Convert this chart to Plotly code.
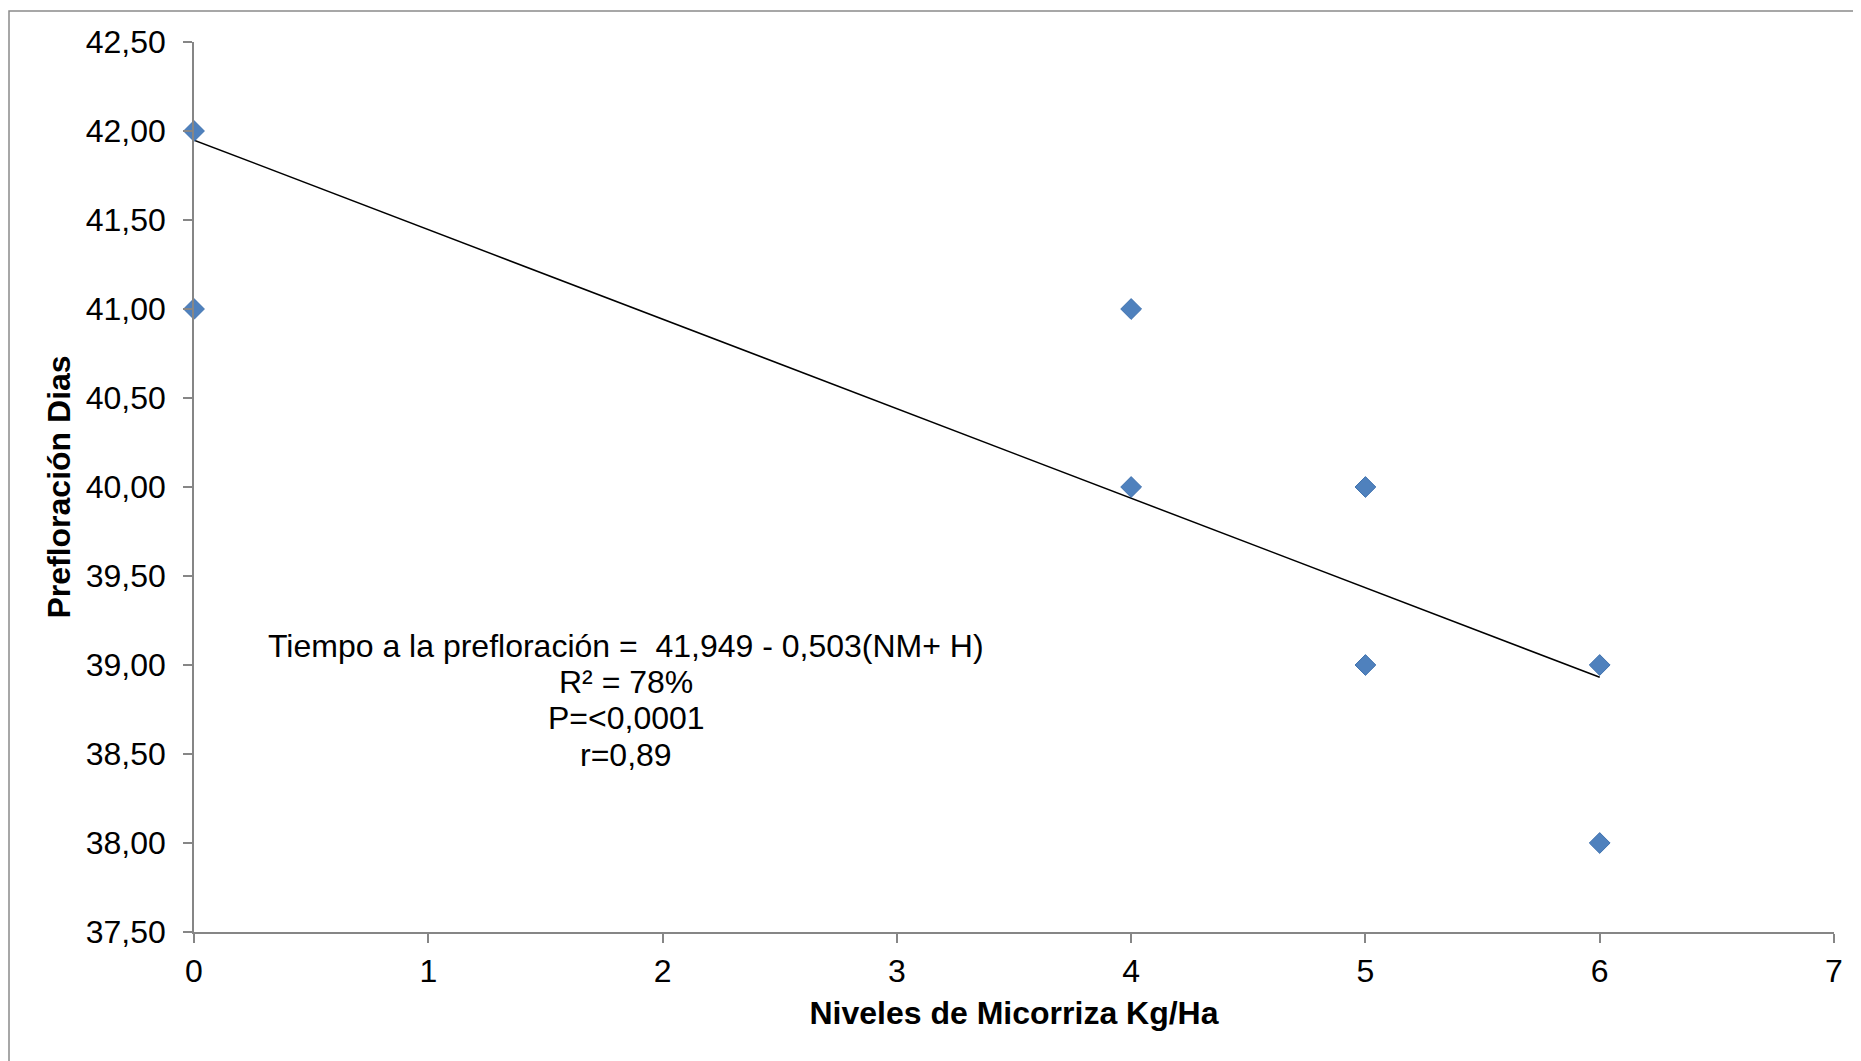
import plotly.graph_objects as go

# Data
niveles = [0, 0, 4, 4, 5, 5, 6, 6]
prefloracion = [42.0, 41.0, 41.0, 40.0, 40.0, 39.0, 39.0, 38.0]

# Trend line (equation stated on the chart)
intercept = 41.949
slope = -0.503
trend_x = [0, 6]
trend_y = [intercept + slope * x for x in trend_x]

y_ticks = [37.5, 38.0, 38.5, 39.0, 39.5, 40.0, 40.5, 41.0, 41.5, 42.0, 42.5]
y_tick_labels = ["37,50", "38,00", "38,50", "39,00", "39,50", "40,00",
                 "40,50", "41,00", "41,50", "42,00", "42,50"]
x_ticks = [0, 1, 2, 3, 4, 5, 6, 7]

annotation_lines = [
    "Tiempo a la prefloración =  41,949 - 0,503(NM+ H)",
    "R² = 78%",
    "P=<0,0001",
    "r=0,89",
]

FONT = "Liberation Sans, Arial, sans-serif"
AXIS_COLOR = "#868686"
FS = 32

fig = go.Figure()
fig.add_trace(go.Scatter(
    x=trend_x, y=trend_y, mode="lines",
    line=dict(color="black", width=1.5),
    hoverinfo="skip", showlegend=False,
))
fig.add_trace(go.Scatter(
    x=niveles, y=prefloracion, mode="markers",
    marker=dict(symbol="diamond", size=16, color="#4F81BD",
                line=dict(color="#4274B0", width=1)),
    showlegend=False, cliponaxis=False,
))

OFF = 8  # page body margin
W, H = 1861 - OFF, 1061 - OFF
# plot area in page pixels: x 194..1834, y 42..932
L, T = 194 - OFF, 42 - OFF
pw, ph = 1640, 890
R = W - L - pw
B = H - T - ph

def px_to_paper_x(px):  # page px
    return (px - OFF - L) / pw

def px_to_paper_y(py):  # page px
    return (T + ph - (py - OFF)) / ph

line_centers_px = [646, 682, 718, 755]
annotations = []
for txt, py in zip(annotation_lines, line_centers_px):
    annotations.append(dict(
        text=txt, xref="paper", yref="paper",
        x=px_to_paper_x(626), y=px_to_paper_y(py),
        xanchor="center", yanchor="middle", showarrow=False,
        font=dict(family=FONT, size=FS, color="black"),
    ))

fig.update_layout(
    width=W, height=H,
    margin=dict(l=L, r=R, t=T, b=B, autoexpand=False),
    paper_bgcolor="white", plot_bgcolor="white",
    font=dict(family=FONT, color="black"),
    annotations=annotations,
    shapes=[dict(
        type="rect", xref="paper", yref="paper",
        x0=px_to_paper_x(9), x1=px_to_paper_x(1900),
        y0=px_to_paper_y(1100), y1=px_to_paper_y(11),
        line=dict(color="#8A8A8A", width=1.5), layer="below",
    )],
    xaxis=dict(
        range=[0, 7], tickvals=x_ticks, ticktext=[str(v) for v in x_ticks],
        showgrid=False, zeroline=False, showline=True,
        linecolor=AXIS_COLOR, linewidth=1.5,
        ticks="outside", ticklen=9, tickcolor=AXIS_COLOR, tickwidth=1.5,
        tickfont=dict(family=FONT, size=FS, color="black"),
        ticklabelstandoff=1,
        title=dict(text="<b>Niveles de Micorriza Kg/Ha</b>",
                   font=dict(family=FONT, size=FS, color="black"),
                   standoff=13),
    ),
    yaxis=dict(
        range=[37.5, 42.5], tickvals=y_ticks, ticktext=y_tick_labels,
        showgrid=False, zeroline=False, showline=True,
        linecolor=AXIS_COLOR, linewidth=1.5,
        ticks="outside", ticklen=9, tickcolor=AXIS_COLOR, tickwidth=1.5,
        tickfont=dict(family=FONT, size=FS, color="black"),
        ticklabelstandoff=11,
        title=dict(text="<b>Prefloración Dias</b>",
                   font=dict(family=FONT, size=FS, color="black"),
                   standoff=6),
    ),
)

fig.write_html("out.html")
